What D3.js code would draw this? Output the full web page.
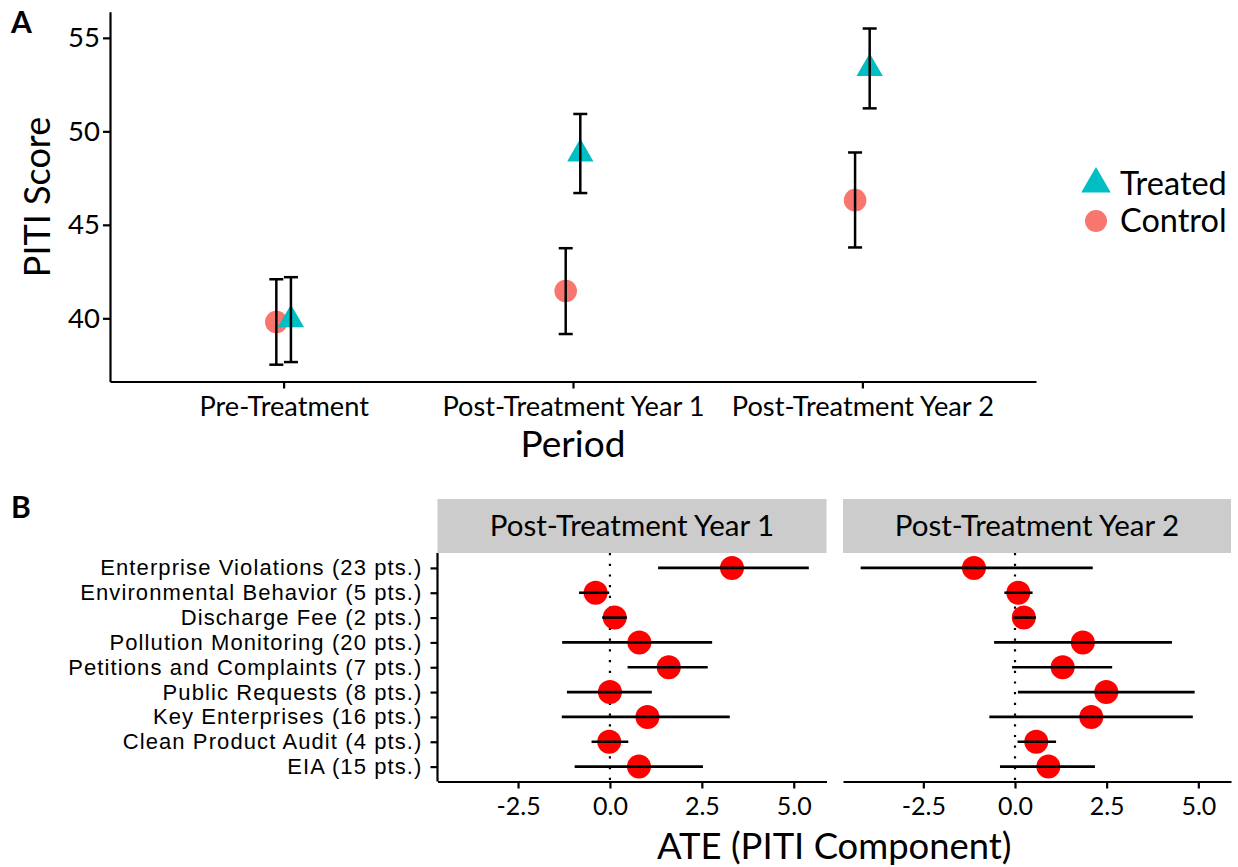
<!DOCTYPE html>
<html><head><meta charset="utf-8">
<script src="https://cdn.jsdelivr.net/npm/d3@7"></script>
<style>
body{margin:0;background:#fff}
svg text{font-family:Lato,"Open Sans",sans-serif;fill:#000}
</style>
</head><body>
<svg id="chart" width="1238" height="867"></svg>
<script>
// ---------- Panel A data ----------
const periods = ["Pre-Treatment", "Post-Treatment Year 1", "Post-Treatment Year 2"];
const groups = ["Treated", "Control"];
const treatedMean = [39.93, 48.80, 53.37];
const treatedLow  = [37.66, 46.70, 51.23];
const treatedHigh = [42.20, 50.93, 55.50];
const controlMean = [39.80, 41.46, 46.32];
const controlLow  = [37.52, 39.16, 43.79];
const controlHigh = [42.09, 43.75, 48.87];
const yTicksA = [40, 45, 50, 55];

// ---------- Panel B data ----------
const components = [
  "Enterprise Violations (23 pts.)",
  "Environmental Behavior (5 pts.)",
  "Discharge Fee (2 pts.)",
  "Pollution Monitoring (20 pts.)",
  "Petitions and Complaints (7 pts.)",
  "Public Requests (8 pts.)",
  "Key Enterprises (16 pts.)",
  "Clean Product Audit (4 pts.)",
  "EIA (15 pts.)"
];
const facets = ["Post-Treatment Year 1", "Post-Treatment Year 2"];
const ateYear1  = [3.32, -0.39, 0.13, 0.80, 1.60, 0.00, 1.02, -0.02, 0.79];
const lowYear1  = [1.31, -0.84, -0.21, -1.30, 0.48, -1.17, -1.31, -0.50, -0.96];
const highYear1 = [5.41, -0.02, 0.46, 2.78, 2.66, 1.14, 3.26, 0.50, 2.53];
const ateYear2  = [-1.12, 0.09, 0.24, 1.85, 1.30, 2.49, 2.08, 0.58, 0.91];
const lowYear2  = [-4.21, -0.29, -0.05, -0.57, -0.08, 0.08, -0.70, 0.07, -0.41];
const highYear2 = [2.12, 0.48, 0.57, 4.28, 2.65, 4.90, 4.85, 1.12, 2.18];
const xTicksB = [-2.5, 0, 2.5, 5];

// ---------- build tables ----------
const rowsA = [];
periods.forEach((p, i) => {
  rowsA.push({period: p, group: "Control", mean: controlMean[i], lo: controlLow[i], hi: controlHigh[i]});
  rowsA.push({period: p, group: "Treated", mean: treatedMean[i], lo: treatedLow[i], hi: treatedHigh[i]});
});
const facetRows = [
  components.map((c, i) => ({comp: c, ate: ateYear1[i], lo: lowYear1[i], hi: highYear1[i]})),
  components.map((c, i) => ({comp: c, ate: ateYear2[i], lo: lowYear2[i], hi: highYear2[i]}))
];

const svg = d3.select("#chart");
const colTreated = "#00BFC4", colControl = "#F8766D";
const baseFont = "Lato, 'Open Sans', sans-serif";

function expand(ext, m) { const r = ext[1] - ext[0]; return [ext[0] - r * m, ext[1] + r * m]; }

// ================= Panel A =================
const A = {left: 110, right: 1036, top: 11.7, bottom: 381.5};
const xA = d3.scalePoint().domain(periods).range([A.left, A.right]).padding(0.6);
const dodge = d3.scalePoint().domain(["Control", "Treated"]).range([-7.3, 7.3]);
const yA = d3.scaleLinear()
  .domain(expand(d3.extent(rowsA.flatMap(d => [d.lo, d.hi])), 0.05))
  .range([A.bottom, A.top]);

const gA = svg.append("g");
gA.selectAll("circle.ctrl").data(rowsA.filter(d => d.group === "Control")).join("circle")
  .attr("cx", d => xA(d.period) + dodge(d.group)).attr("cy", d => yA(d.mean))
  .attr("r", 11.3).attr("fill", colControl);
gA.selectAll("path.trt").data(rowsA.filter(d => d.group === "Treated")).join("path")
  .attr("d", d3.symbol(d3.symbolTriangle, 300))
  .attr("transform", d => `translate(${xA(d.period) + dodge(d.group)},${yA(d.mean)})`)
  .attr("fill", colTreated);
const eb = gA.selectAll("g.eb").data(rowsA).join("g")
  .attr("transform", d => `translate(${xA(d.period) + dodge(d.group)},0)`);
eb.append("line").attr("x1", 0).attr("x2", 0).attr("y1", d => yA(d.lo)).attr("y2", d => yA(d.hi));
eb.append("line").attr("x1", -7).attr("x2", 7).attr("y1", d => yA(d.lo)).attr("y2", d => yA(d.lo));
eb.append("line").attr("x1", -7).attr("x2", 7).attr("y1", d => yA(d.hi)).attr("y2", d => yA(d.hi));
eb.selectAll("line").attr("stroke", "#000").attr("stroke-width", 2.5);

function styleAxis(g, fs, family) {
  g.select(".domain").attr("stroke", "#000").attr("stroke-width", 2.2);
  g.selectAll(".tick line").attr("stroke", "#000").attr("stroke-width", 2.2);
  g.selectAll(".tick text").attr("font-size", fs).attr("fill", "#000")
    .style("font-family", family || baseFont);
}
const axAy = svg.append("g").attr("transform", `translate(${A.left},0)`)
  .call(d3.axisLeft(yA).tickValues(yTicksA).tickSize(7).tickSizeOuter(0).tickPadding(3));
styleAxis(axAy, 27.5);
const axAx = svg.append("g").attr("transform", `translate(0,${A.bottom})`)
  .call(d3.axisBottom(xA).tickSize(7).tickSizeOuter(0).tickPadding(8));
styleAxis(axAx, 27.2);

svg.append("text").attr("transform", `translate(50,197) rotate(-90)`)
  .attr("text-anchor", "middle").attr("font-size", 36).text("PITI Score");
svg.append("text").attr("x", (A.left + A.right) / 2).attr("y", 457)
  .attr("text-anchor", "middle").attr("font-size", 37).text("Period");
svg.append("text").attr("x", 11).attr("y", 33).attr("font-size", 30).attr("font-weight", "bold").text("A");

// legend
const leg = svg.append("g");
leg.append("path").attr("d", d3.symbol(d3.symbolTriangle, 380))
  .attr("transform", "translate(1096,184)").attr("fill", colTreated);
leg.append("circle").attr("cx", 1096).attr("cy", 221).attr("r", 11).attr("fill", colControl);
leg.selectAll("text.lg").data(groups).join("text")
  .attr("x", 1120).attr("y", (d, i) => 184 + i * 37).attr("dy", "0.35em")
  .attr("font-size", 32.5).text(d => d);

// ================= Panel B =================
const B = {top: 553, bottom: 781.5, stripTop: 499};
const panelsB = [[437.5, 826.5], [843, 1231]];
const allB = facetRows.flat();
const domB = expand(d3.extent(allB.flatMap(d => [d.lo, d.hi])), 0.05);
const yB = d3.scalePoint().domain(components).range([B.top, B.bottom]).padding(0.6);

facetRows.forEach((rows, fi) => {
  const [x0, x1] = panelsB[fi];
  const xB = d3.scaleLinear().domain(domB).range([x0, x1]);
  const g = svg.append("g");
  g.append("rect").attr("x", x0).attr("y", B.stripTop).attr("width", x1 - x0)
    .attr("height", B.top - B.stripTop).attr("fill", "#CCCCCC");
  g.append("text").attr("x", (x0 + x1) / 2).attr("y", (B.stripTop + B.top) / 2).attr("dy", "0.35em")
    .attr("text-anchor", "middle").attr("font-size", 29.5).text(facets[fi]);
  g.append("line").attr("x1", xB(0)).attr("x2", xB(0)).attr("y1", B.top).attr("y2", B.bottom)
    .attr("stroke", "#000").attr("stroke-width", 2.2).attr("stroke-dasharray", "2.2,8.5");
  g.selectAll("circle").data(rows).join("circle")
    .attr("cx", d => xB(d.ate)).attr("cy", d => yB(d.comp)).attr("r", 12).attr("fill", "#FF0000");
  g.selectAll("line.rng").data(rows).join("line").attr("class", "rng")
    .attr("x1", d => xB(d.lo)).attr("x2", d => xB(d.hi))
    .attr("y1", d => yB(d.comp)).attr("y2", d => yB(d.comp))
    .attr("stroke", "#000").attr("stroke-width", 2.6);
  const ax = svg.append("g").attr("transform", `translate(0,${B.bottom})`)
    .call(d3.axisBottom(xB).tickValues(xTicksB).tickFormat(d => d.toFixed(1))
      .tickSize(7).tickSizeOuter(0).tickPadding(9));
  styleAxis(ax, 25);
  if (fi === 0) {
    const ay = svg.append("g").attr("transform", `translate(${x0},0)`)
      .call(d3.axisLeft(yB).tickSize(7).tickSizeOuter(0).tickPadding(8));
    styleAxis(ay, 22, "'Liberation Sans', Arial, sans-serif");
    ay.selectAll(".tick text").attr("letter-spacing", 1.1);
    ay.select(".domain").attr("d", `M0,${B.top}V${B.bottom}`);
  }
});

svg.append("text").attr("x", (panelsB[0][0] + panelsB[1][1]) / 2).attr("y", 859)
  .attr("text-anchor", "middle").attr("font-size", 36.4).text("ATE (PITI Component)");
svg.append("text").attr("x", 11).attr("y", 518).attr("font-size", 30).attr("font-weight", "bold").text("B");
</script>
</body></html>
